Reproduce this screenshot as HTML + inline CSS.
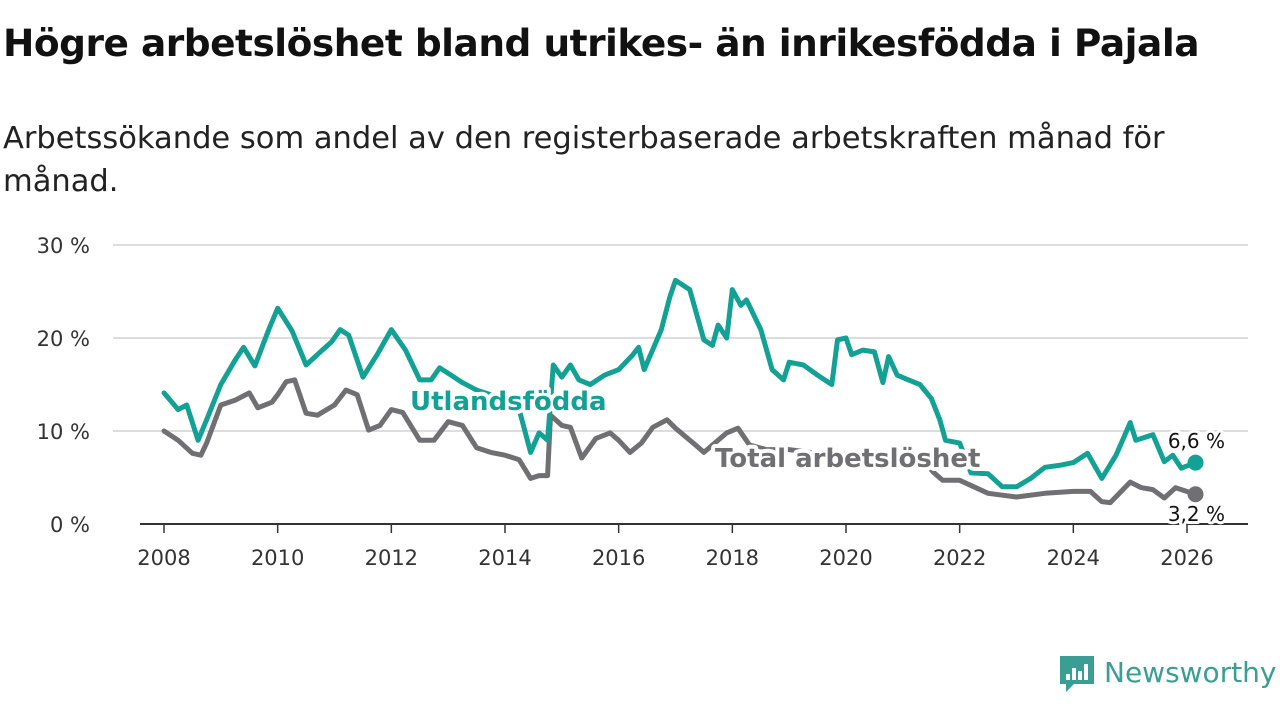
<!DOCTYPE html>
<html><head><meta charset="utf-8"><style>
body{margin:0;background:#fff;font-family:"Liberation Sans","DejaVu Sans",sans-serif;}
#wrap{position:relative;width:1280px;height:720px;overflow:hidden;}
h1{position:absolute;left:3px;top:21px;margin:0;font-size:37.5px;font-weight:bold;color:#111;font-family:"DejaVu Sans","Liberation Sans",sans-serif;letter-spacing:-0.5px;white-space:nowrap}
p.sub{position:absolute;left:3px;top:117px;margin:0;font-size:30.5px;line-height:43px;color:#222;width:1200px;font-family:"DejaVu Sans","Liberation Sans",sans-serif;}
</style></head><body><div id="wrap">
<h1>Högre arbetslöshet bland utrikes- än inrikesfödda i Pajala</h1>
<p class="sub">Arbetssökande som andel av den registerbaserade arbetskraften månad för månad.</p>
<svg id="chart" width="1280" height="720" style="position:absolute;left:0;top:0"></svg>
</div>
<script>
const yTicks=[0,10,20,30];
const xTicks=[2008,2010,2012,2014,2016,2018,2020,2022,2024,2026];
const utlT=[2008.0,2008.25,2008.4,2008.6,2008.75,2009.0,2009.25,2009.4,2009.6,2009.85,2010.0,2010.25,2010.5,2010.75,2010.95,2011.1,2011.25,2011.5,2011.75,2012.0,2012.25,2012.5,2012.7,2012.85,2013.0,2013.25,2013.5,2013.75,2014.0,2014.25,2014.45,2014.6,2014.75,2014.85,2015.0,2015.15,2015.3,2015.5,2015.75,2016.0,2016.25,2016.35,2016.45,2016.75,2016.9,2017.0,2017.25,2017.5,2017.65,2017.75,2017.9,2018.0,2018.15,2018.25,2018.5,2018.7,2018.9,2019.0,2019.25,2019.5,2019.75,2019.85,2020.0,2020.1,2020.3,2020.5,2020.65,2020.75,2020.9,2021.1,2021.3,2021.5,2021.65,2021.75,2022.0,2022.2,2022.5,2022.75,2023.0,2023.25,2023.5,2023.75,2024.0,2024.25,2024.5,2024.75,2025.0,2025.1,2025.4,2025.6,2025.75,2025.9,2026.15];
const utlV=[14.1,12.3,12.8,9.0,11.2,15.0,17.6,19.0,17.0,21.0,23.2,20.8,17.1,18.5,19.6,20.9,20.3,15.8,18.2,20.9,18.7,15.5,15.5,16.8,16.2,15.2,14.4,13.9,12.8,12.3,7.7,9.8,9.0,17.1,15.8,17.1,15.5,15.0,16.0,16.6,18.2,19.0,16.6,20.9,24.4,26.2,25.2,19.8,19.2,21.4,20.0,25.2,23.5,24.1,20.9,16.6,15.5,17.4,17.1,16.0,15.0,19.8,20.0,18.2,18.7,18.5,15.2,18.0,16.0,15.5,15.0,13.5,11.2,9.0,8.7,5.5,5.4,4.0,4.0,4.9,6.1,6.3,6.6,7.6,4.9,7.4,10.9,9.0,9.6,6.7,7.4,6.0,6.6];
const totT=[2008.0,2008.25,2008.5,2008.65,2008.75,2009.0,2009.25,2009.5,2009.65,2009.9,2010.0,2010.15,2010.3,2010.5,2010.7,2011.0,2011.2,2011.4,2011.6,2011.8,2012.0,2012.2,2012.5,2012.75,2013.0,2013.25,2013.5,2013.75,2014.0,2014.25,2014.45,2014.6,2014.75,2014.8,2015.0,2015.15,2015.35,2015.6,2015.85,2016.0,2016.2,2016.4,2016.6,2016.85,2017.0,2017.35,2017.5,2017.9,2018.1,2018.3,2018.6,2019.0,2019.5,2020.0,2020.5,2021.0,2021.4,2021.55,2021.7,2022.0,2022.25,2022.5,2022.75,2023.0,2023.5,2024.0,2024.3,2024.5,2024.65,2025.0,2025.2,2025.4,2025.6,2025.8,2026.15];
const totV=[10.0,9.0,7.6,7.4,8.7,12.8,13.3,14.1,12.5,13.1,13.9,15.3,15.5,11.9,11.7,12.8,14.4,13.9,10.1,10.6,12.3,12.0,9.0,9.0,11.0,10.6,8.2,7.7,7.4,6.9,4.9,5.2,5.2,11.7,10.6,10.4,7.1,9.2,9.8,9.0,7.7,8.7,10.4,11.2,10.3,8.5,7.7,9.8,10.3,8.5,8.0,8.0,7.6,7.5,7.2,7.0,6.5,5.5,4.7,4.7,4.0,3.3,3.1,2.9,3.3,3.5,3.5,2.4,2.3,4.5,3.9,3.7,2.8,3.9,3.2];
const seriesNames=["Utlandsfödda","Total arbetslöshet"];
const endLabels=["6,6 %","3,2 %"];
const NS="http://www.w3.org/2000/svg";
const svg=document.getElementById('chart');
const x=t=>164+(t-2008)*(1187-164)/18;
const y=v=>524-v*9.3;
function mk(tag,a,parent){const e=document.createElementNS(NS,tag);for(const k in a)e.setAttribute(k,a[k]);(parent||svg).appendChild(e);return e;}
yTicks.forEach(v=>{
  if(v>0){const g=mk('line',{x1:113,x2:1248,y1:y(v),y2:y(v),stroke:'#ddd','stroke-width':2});
  
  }
  const t=mk('text',{x:90,y:y(v)+8,'text-anchor':'end','font-size':21,fill:'#333','font-family':'DejaVu Sans, Liberation Sans, sans-serif'});t.textContent=v+' %';
  
  
});
xTicks.forEach(v=>{
  const l=mk('line',{x1:x(v),x2:x(v),y1:524,y2:533,stroke:'#333','stroke-width':1.5});
  
  
  const t=mk('text',{x:x(v),y:565,'text-anchor':'middle','font-size':21,fill:'#333','font-family':'DejaVu Sans, Liberation Sans, sans-serif'});t.textContent=v;
  
  
});
const ax=mk('line',{x1:140,x2:1248,y1:524,y2:524,stroke:'#333','stroke-width':2});


function line(T,V,col,name){
  const d=T.map((t,i)=>(i?'L':'M')+x(t).toFixed(1)+','+y(V[i]).toFixed(1)).join('');
  const p=mk('path',{d:d,fill:'none',stroke:col,'stroke-width':5,'stroke-linejoin':'round','stroke-linecap':'round'});
  
  
  const c=mk('circle',{cx:x(T[T.length-1]),cy:y(V[V.length-1]),r:8,fill:col});
  
  
}
line(totT,totV,'#707073','total');
line(utlT,utlV,'#14a195','utlandsfodda');
function lab(txt,xx,yy,col,bold,size,anchor,name){
  const t=mk('text',{x:xx,y:yy,fill:col,'font-size':size,'font-weight':bold?'bold':'normal','text-anchor':anchor||'start',stroke:'#fff','stroke-width':bold?8:6,'paint-order':'stroke','stroke-linejoin':'round','font-family':'DejaVu Sans, Liberation Sans, sans-serif'});
  t.textContent=txt;
  
  
}
lab(seriesNames[0],410,410,'#14a195',true,26,'start','utlandsfodda-label');
lab(seriesNames[1],715,467,'#707073',true,26,'start','total-label');
lab(endLabels[0],1225,448,'#111',false,20,'end','utlandsfodda-end-value');
lab(endLabels[1],1225,521,'#111',false,20,'end','total-end-value');
const g=mk('g',{});


mk('path',{d:'M1060,656 h34 v28 h-20 l-8,8 v-8 h-6 z',fill:'#3a9e94'},g);
[[1066,674,4,6],[1072,668,4,12],[1078,671,4,9],[1084,664,4,16]].forEach(r=>mk('rect',{x:r[0],y:r[1],width:r[2],height:r[3],fill:'#fff'},g));
const lt=mk('text',{x:1104,y:682,'font-size':28,fill:'#3a9e94','font-family':'DejaVu Sans, Liberation Sans, sans-serif'},g);lt.textContent='Newsworthy';
</script></body></html>
